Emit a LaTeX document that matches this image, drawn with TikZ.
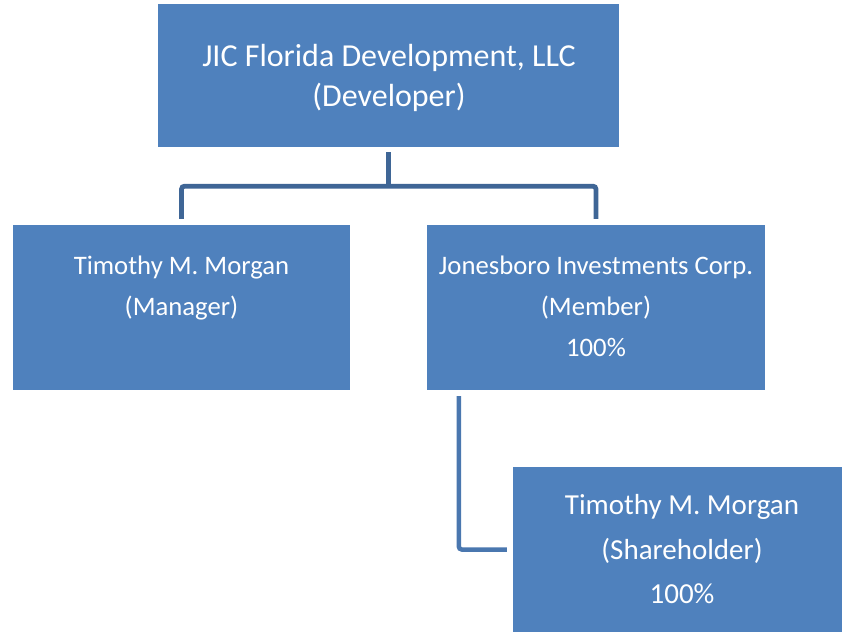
\documentclass[tikz,border=0pt]{standalone}
\usepackage{fontspec}
\setmainfont{Carlito}
\definecolor{boxblue}{HTML}{4F81BD}
\definecolor{linkdark}{HTML}{3F6696}
\definecolor{linkmid}{HTML}{4A77AF}
\begin{document}
\begin{tikzpicture}[x=1pt,y=-1pt,
  orgbox/.style={rectangle, fill=boxblue, draw=none, inner sep=0pt},
  txt/.style={text=white, inner sep=0pt, anchor=base},
  bigtxt/.style={txt, font=\fontsize{32}{38}\selectfont},
  midtxt/.style={txt, font=\fontsize{26.7}{32}\selectfont},
  lowtxt/.style={txt, font=\fontsize{29}{35}\selectfont},
  tree/.style={draw=linkdark, line width=4.8pt, rounded corners=3pt},
  branch/.style={draw=linkmid, line width=4.5pt, rounded corners=3pt}]
\useasboundingbox (0,0) rectangle (842,631);

% boxes
\node[orgbox, minimum width=461pt, minimum height=143pt] (dev) at (388.5,75.5) {};
\node[orgbox, minimum width=337pt, minimum height=165pt] (mgr) at (181.5,307.5) {};
\node[orgbox, minimum width=338pt, minimum height=165pt] (mem) at (596,307.5) {};
\node[orgbox, minimum width=337pt, minimum height=165pt] (shr) at (681.5,549.5) {};

% labels
\node[bigtxt] (dev1) at (389,67) {JIC Florida Development, LLC};
\node[bigtxt] (dev2) at (389,107) {(Developer)};
\node[midtxt] (mgr1) at (181.5,274) {Timothy M. Morgan};
\node[midtxt] (mgr2) at (181.5,315) {(Manager)};
\node[midtxt] (mem1) at (596,274) {Jonesboro Investments Corp.};
\node[midtxt] (mem2) at (596,315) {(Member)};
\node[midtxt] (mem3) at (596,356) {100\%};
\node[lowtxt] (shr1) at (682,514) {Timothy M. Morgan};
\node[lowtxt] (shr2) at (682,559) {(Shareholder)};
\node[lowtxt] (shr3) at (682,603) {100\%};

% connectors
\coordinate (hub) at ([yshift=-39pt]dev.south);
\draw[tree] ([yshift=-5pt]dev.south) -- (hub);
\draw[tree] ([yshift=6pt]mgr.north) |- (hub) -| ([yshift=6pt]mem.north);
\draw[branch] ([xshift=32pt,yshift=-6pt]mem.south west) |- ([xshift=-6pt]shr.west);
\end{tikzpicture}
\end{document}
